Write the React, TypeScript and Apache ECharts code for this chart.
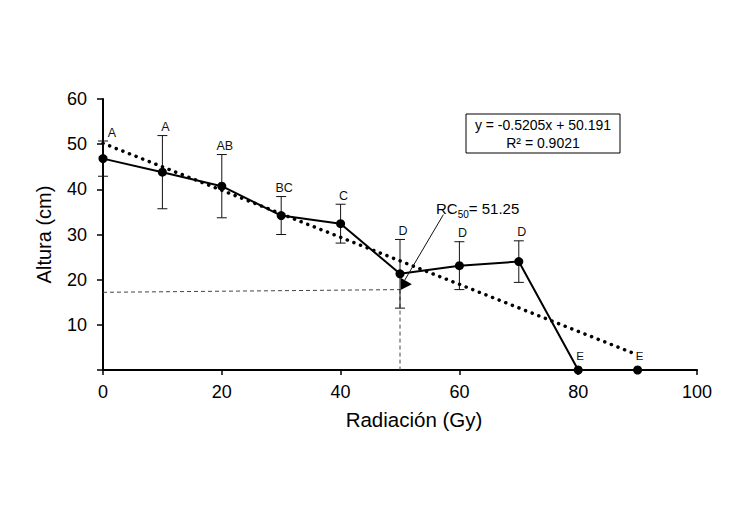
import React, { useEffect, useRef } from "react";
import * as echarts from "echarts";

const xValues = [0, 10, 20, 30, 40, 50, 60, 70, 80, 90];
const alturaMeans = [46.8, 43.8, 40.7, 34.2, 32.4, 21.3, 23.1, 24.0, 0, 0];
const errorValues = [3.9, 8.1, 7.0, 4.2, 4.3, 7.6, 5.3, 4.6, 0, 0];
const letters = ["A", "A", "AB", "BC", "C", "D", "D", "D", "E", "E"];

const trendX = [0, 90];
const trendY = [50.19, 3.34];

const refHorizX = [0, 50];
const refHorizY = [17.2, 17.8];
const refVertX = [50, 50];
const refVertY = [17.8, 0];

const arrowFrom = [57.3, 34.4];
const arrowTo = [50.8, 19.9];
const arrowHead = [
  [50.1, 20.4],
  [52.0, 19.0],
  [50.1, 17.7],
];

const xTicks = { min: 0, max: 100, interval: 20 };
const yTicks = { min: 0, max: 60, interval: 10 };

const equationText = ["y = -0.5205x + 50.191", "R² = 0.9021"];
const rcText = { label: "RC", sub: "50", value: "= 51.25" };

const FONT = "Liberation Sans, Arial, sans-serif";

export default function App() {
  const ref = useRef<HTMLDivElement>(null);

  useEffect(() => {
    document.body.style.margin = "0";
    if (!ref.current) return;
    const chart = echarts.init(ref.current, null, { renderer: "svg" });

    const mainData = xValues.map((x, i) => [x, alturaMeans[i]]);
    const errData = xValues.map((x, i) => [x, alturaMeans[i], errorValues[i]]);

    chart.setOption({
      animation: false,
      backgroundColor: "#fff",
      textStyle: { fontFamily: FONT },
      grid: { left: 103, right: 45, top: 99, bottom: 142 },
      xAxis: {
        type: "value",
        min: xTicks.min,
        max: xTicks.max,
        interval: xTicks.interval,
        name: "Radiación (Gy)",
        nameLocation: "middle",
        nameGap: 39,
        nameTextStyle: { fontSize: 20.5, color: "#000", fontFamily: FONT, padding: [0, 0, 0, 28] },
        axisLine: { lineStyle: { color: "#000", width: 2 } },
        axisTick: { show: true, length: 5, lineStyle: { color: "#000", width: 1.5 } },
        axisLabel: { fontSize: 18, color: "#000", margin: 13, fontFamily: FONT },
        splitLine: { show: false },
      },
      yAxis: {
        type: "value",
        min: yTicks.min,
        max: yTicks.max,
        interval: yTicks.interval,
        name: "Altura (cm)",
        nameLocation: "middle",
        nameGap: 49,
        nameTextStyle: { fontSize: 20, color: "#000", fontFamily: FONT },
        axisLine: { show: true, lineStyle: { color: "#000", width: 2 } },
        axisTick: { show: true, length: 6, lineStyle: { color: "#000", width: 1.5 } },
        axisLabel: {
          fontSize: 18,
          color: "#000",
          margin: 16,
          fontFamily: FONT,
          formatter: (v: number) => (v === 0 ? "" : String(v)),
        },
        splitLine: { show: false },
      },
      series: [
        {
          type: "line",
          name: "ref-h",
          data: refHorizX.map((x, i) => [x, refHorizY[i]]),
          symbol: "none",
          lineStyle: { color: "#444", width: 1, type: [4, 3] },
          z: 1,
        },
        {
          type: "line",
          name: "ref-v",
          data: refVertX.map((x, i) => [x, refVertY[i]]),
          symbol: "none",
          lineStyle: { color: "#444", width: 1, type: [4, 3] },
          z: 1,
        },
        {
          type: "custom",
          name: "errors",
          data: errData,
          z: 2,
          renderItem: (params: any, api: any) => {
            const x = api.value(0);
            const y = api.value(1);
            const e = api.value(2);
            const top = api.coord([x, y + e]);
            const bot = api.coord([x, y - e]);
            const idx = params.dataIndex;
            const children: any[] = [];
            if (e > 0) {
              const st = { stroke: "#111", lineWidth: 1 };
              children.push(
                { type: "line", shape: { x1: top[0], y1: top[1], x2: bot[0], y2: bot[1] }, style: st },
                { type: "line", shape: { x1: top[0] - 5, y1: top[1], x2: top[0] + 5, y2: top[1] }, style: st },
                { type: "line", shape: { x1: bot[0] - 5, y1: bot[1], x2: bot[0] + 5, y2: bot[1] }, style: st }
              );
            }
            children.push({
              type: "text",
              x: top[0] + (idx === 0 ? 9 : e > 0 ? 3 : 2),
              y: top[1] - (e > 0 ? 2 : 8),
              style: {
                text: letters[idx],
                fontSize: e > 0 ? 12.5 : 11.5,
                fontFamily: FONT,
                fill: "#111",
                align: "center",
                verticalAlign: "bottom",
              },
            });
            return { type: "group", children };
          },
        },
        {
          type: "line",
          name: "Altura",
          data: mainData,
          symbol: "circle",
          symbolSize: 9,
          itemStyle: { color: "#000" },
          lineStyle: { color: "#000", width: 2 },
          z: 3,
        },
        {
          type: "line",
          name: "Tendencia",
          data: trendX.map((x, i) => [x, trendY[i]]),
          symbol: "none",
          lineStyle: { color: "#000", width: 3.5, type: [0.1, 7], cap: "round" },
          z: 4,
        },
        {
          type: "custom",
          name: "arrow",
          data: [[arrowTo[0], arrowTo[1]]],
          z: 5,
          renderItem: (params: any, api: any) => {
            const p1 = api.coord(arrowFrom);
            const p2 = api.coord(arrowTo);
            const head = arrowHead.map((p) => api.coord(p));
            return {
              type: "group",
              children: [
                { type: "line", shape: { x1: p1[0], y1: p1[1], x2: p2[0], y2: p2[1] }, style: { stroke: "#111", lineWidth: 1 } },
                { type: "polygon", shape: { points: head }, style: { fill: "#000" } },
              ],
            };
          },
        },
      ],
      graphic: [
        {
          type: "rect",
          shape: { x: 466, y: 114, width: 154, height: 39 },
          style: { fill: "#fff", stroke: "#000", lineWidth: 1 },
          z: 10,
        },
        {
          type: "text",
          x: 543,
          y: 125,
          z: 11,
          style: { text: equationText[0], fontSize: 14, fontFamily: FONT, fill: "#000", align: "center", verticalAlign: "middle" },
        },
        {
          type: "text",
          x: 543,
          y: 143,
          z: 11,
          style: { text: equationText[1], fontSize: 14, fontFamily: FONT, fill: "#000", align: "center", verticalAlign: "middle" },
        },
        {
          type: "text",
          x: 436,
          y: 207,
          z: 11,
          style: {
            text: `{n|${rcText.label}}{s|${rcText.sub}}{n|${rcText.value}}`,
            align: "left",
            verticalAlign: "middle",
            rich: {
              n: { fontSize: 15, fontFamily: FONT, fill: "#000", lineHeight: 18, verticalAlign: "bottom" },
              s: { fontSize: 10, fontFamily: FONT, fill: "#000", lineHeight: 18, verticalAlign: "bottom", padding: [0, 0, -3, 0] },
            },
          },
        },
      ],
    });

    return () => chart.dispose();
  }, []);

  return <div ref={ref} style={{ width: 742, height: 512 }} />;
}
